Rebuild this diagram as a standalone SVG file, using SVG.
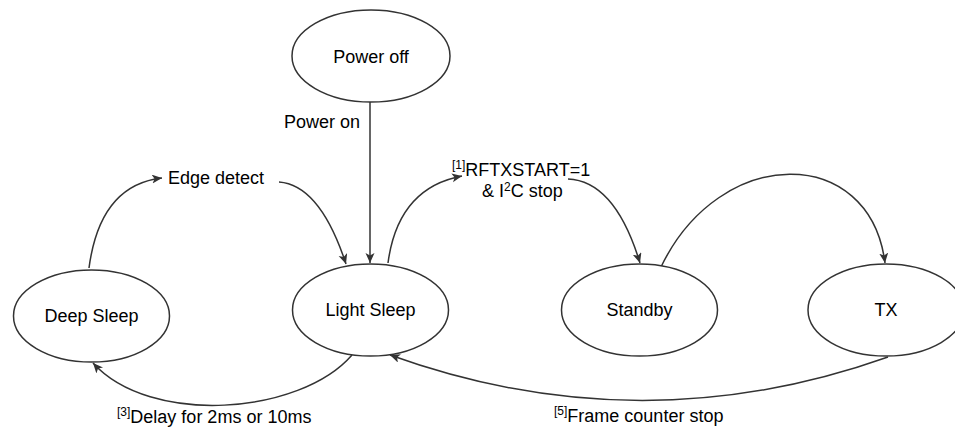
<svg xmlns="http://www.w3.org/2000/svg" width="955" height="427" viewBox="0 0 955 427">
<style>
.node ellipse{fill:#fff;stroke:#333;stroke-width:1.5}
.lbl{font-family:"Liberation Sans",Arial,sans-serif;font-size:18px;fill:#000}
.ntext{text-anchor:middle}
.sup{font-size:12px}
#edges path{fill:none;stroke:#333;stroke-width:1.5}
</style>
<defs>
<marker id="arr" markerUnits="userSpaceOnUse" markerWidth="12" markerHeight="10" refX="10" refY="4.5" orient="auto">
<path d="M0,0 L10,4.5 L0,9 L2.5,4.5 Z" fill="#333"/>
</marker>
</defs>
<rect width="955" height="427" fill="#fff"/>
<g id="edges">
<path d="M370,102 L370,263" marker-end="url(#arr)"/>
<path d="M89,268 Q100,185 162,178" marker-end="url(#arr)"/>
<path d="M279,182 Q320,185 346,264" marker-end="url(#arr)"/>
<path d="M388,263 Q398,188 462,176" marker-end="url(#arr)"/>
<path d="M568,179 Q615,181 640,263" marker-end="url(#arr)"/>
<path d="M661,267 C720,144 870,144 885,263" marker-end="url(#arr)"/>
<path d="M888,357 Q640,445 390,355" marker-end="url(#arr)"/>
<path d="M352,355 C300,415 150,426 93,363" marker-end="url(#arr)"/>
</g>
<g id="power-off" class="node"><ellipse cx="371" cy="56" rx="79" ry="46"/><text class="lbl ntext" x="371" y="63">Power off</text></g>
<g id="deep-sleep" class="node"><ellipse cx="91.5" cy="316" rx="78" ry="46"/><text class="lbl ntext" x="91.5" y="322">Deep Sleep</text></g>
<g id="light-sleep" class="node"><ellipse cx="370.5" cy="310" rx="78" ry="46"/><text class="lbl ntext" x="370.5" y="316">Light Sleep</text></g>
<g id="standby" class="node"><ellipse cx="639.5" cy="310" rx="78" ry="46"/><text class="lbl ntext" x="639.5" y="316">Standby</text></g>
<g id="tx" class="node"><ellipse cx="886" cy="310" rx="78" ry="46"/><text class="lbl ntext" x="886" y="316">TX</text></g>
<g id="labels">
<text class="lbl" x="284" y="128">Power on</text>
<text class="lbl" x="168" y="184">Edge detect</text>
<text class="lbl" x="452" y="176"><tspan class="sup" dy="-7">[1]</tspan><tspan dy="7">RFTXSTART=1</tspan></text>
<text class="lbl" x="482" y="197">&amp; I<tspan class="sup" dy="-6">2</tspan><tspan dy="6">C stop</tspan></text>
<text class="lbl" x="117" y="423"><tspan class="sup" dy="-7">[3]</tspan><tspan dy="7">Delay for 2ms or 10ms</tspan></text>
<text class="lbl" x="554" y="422"><tspan class="sup" dy="-7">[5]</tspan><tspan dy="7">Frame counter stop</tspan></text>
</g>
</svg>
